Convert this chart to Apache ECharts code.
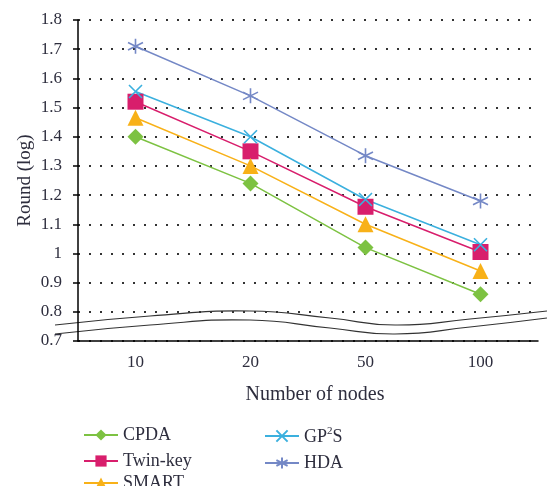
<!DOCTYPE html>
<html><head><meta charset="utf-8">
<script src="https://cdn.jsdelivr.net/npm/echarts@6/dist/echarts.min.js"></script>
<style>html,body{margin:0;padding:0;background:#fff}#c{width:547px;height:486px}</style>
</head><body><div id="c"></div>
<script>
const categories = ['10', '20', '50', '100'];
const cpda = [1.40, 1.24, 1.02, 0.86];
const twinKey = [1.52, 1.35, 1.16, 1.005];
const smart = [1.465, 1.30, 1.10, 0.94];
const gp2s = [1.555, 1.40, 1.185, 1.03];
const hda = [1.71, 1.54, 1.335, 1.18];
const yTicks = { min: 0.7, max: 1.8, step: 0.1 };

const FONT = 'Liberation Serif';
const TXT = '#2e2e3e';
const crossPath = 'path://M0,0L10,10M10,0L0,10';
const starPath = 'path://M5,0L5,10M0.7,2.5L9.3,7.5M0.7,7.5L9.3,2.5';

function mk(name, data, color, symbol, size, stroke) {
  const s = {
    name, type: 'line', data, symbol, symbolSize: size,
    lineStyle: { color, width: 1.5 },
    itemStyle: { color },
    emphasis: { disabled: true }
  };
  if (stroke) s.itemStyle = { color: 'none', borderColor: color, borderWidth: 1.6 };
  return s;
}

const chart = echarts.init(document.getElementById('c'));
const legendText = {
  fontFamily: FONT, fontSize: 18, color: TXT,
  rich: {
    n: { fontFamily: FONT, fontSize: 18, color: TXT, lineHeight: 20, verticalAlign: 'bottom' },
    s: { fontFamily: FONT, fontSize: 11, color: TXT, lineHeight: 20, verticalAlign: 'top' }
  }
};
const lg = (data, left, top, extra) => Object.assign({
  data, orient: 'vertical', left, top, itemWidth: 34, itemHeight: 14, itemGap: 8,
  textStyle: legendText
}, extra || {});
chart.setOption({
  animation: false,
  grid: { left: 78, right: 9, top: 20, bottom: 145 },
  xAxis: {
    type: 'category', data: categories,
    name: 'Number of nodes', nameLocation: 'middle', nameGap: 44,
    nameTextStyle: { fontFamily: FONT, fontSize: 20, color: TXT, padding: [0, 0, 0, 14] },
    axisLine: { lineStyle: { color: '#000', width: 1.5 } },
    axisTick: { show: false },
    axisLabel: { fontFamily: FONT, fontSize: 17, color: TXT, margin: 13 }
  },
  yAxis: {
    type: 'value', min: yTicks.min, max: yTicks.max, interval: yTicks.step,
    name: 'Round (log)', nameLocation: 'middle', nameGap: 43, nameRotate: 90,
    nameMoveOverlap: false,
    nameTextStyle: { fontFamily: FONT, fontSize: 19, color: TXT },
    axisLine: { show: true, lineStyle: { color: '#000', width: 1.5 } },
    axisTick: { show: true, length: 5, lineStyle: { color: '#000', width: 1.5 } },
    axisLabel: { fontFamily: FONT, fontSize: 17, color: TXT, margin: 16,
      formatter: v => String(+v.toFixed(1)) },
    splitLine: { show: true, lineStyle: { color: '#333', width: 1.8, type: [2, 9] } }
  },
  legend: [
    lg(['CPDA', 'Twin-key'], 78, 421),
    lg(['SMART'], 78, 469),
    lg(['GP2S', 'HDA'], 259, 421, { formatter: n => n === 'GP2S' ? '{n|GP}{s|2}{n|S}' : n })
  ],
  graphic: [
    { type: 'polyline', silent: true,
      shape: { points: [[55, 325], [150, 316], [250, 311], [330, 318], [395, 325], [470, 319], [547, 311]], smooth: 0.5 },
      style: { stroke: '#333', lineWidth: 1.2, fill: null } },
    { type: 'polyline', silent: true,
      shape: { points: [[55, 334], [150, 325], [250, 320], [330, 328], [395, 334], [470, 327], [547, 318]], smooth: 0.5 },
      style: { stroke: '#333', lineWidth: 1.2, fill: null } }
  ],
  series: [
    mk('CPDA', cpda, '#7dc242', 'diamond', 16),
    mk('Twin-key', twinKey, '#d81e6c', 'rect', 16),
    mk('SMART', smart, '#f8b118', 'triangle', 16),
    mk('GP2S', gp2s, '#3bb0de', crossPath, 13, true),
    mk('HDA', hda, '#7488c6', starPath, 15, true)
  ]
});
</script></body></html>
